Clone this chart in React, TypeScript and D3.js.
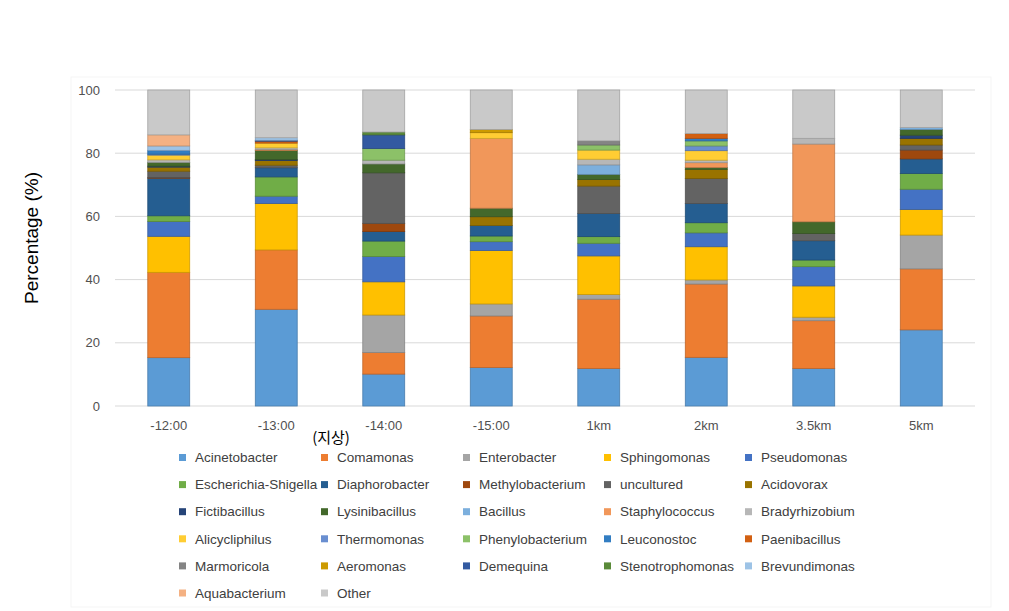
import React from "react";
import * as d3 from "d3";

const categories = ["-12:00", "-13:00", "-14:00", "-15:00", "1km", "2km", "3.5km", "5km"];

const seriesNames = [
  "Acinetobacter", "Comamonas", "Enterobacter", "Sphingomonas", "Pseudomonas",
  "Escherichia-Shigella", "Diaphorobacter", "Methylobacterium", "uncultured", "Acidovorax",
  "Fictibacillus", "Lysinibacillus", "Bacillus", "Staphylococcus", "Bradyrhizobium",
  "Alicycliphilus", "Thermomonas", "Phenylobacterium", "Leuconostoc", "Paenibacillus",
  "Marmoricola", "Aeromonas", "Demequina", "Stenotrophomonas", "Brevundimonas",
  "Aquabacterium", "Other",
];

const seriesColors = [
  "#5B9BD5", "#ED7D31", "#A5A5A5", "#FFC000", "#4472C4",
  "#70AD47", "#255E91", "#9E480E", "#636363", "#997300",
  "#264478", "#43682B", "#7CAFDD", "#F1975A", "#B7B7B7",
  "#FFCD33", "#698ED0", "#8CC168", "#327DC2", "#D26012",
  "#848484", "#CC9A00", "#335AA1", "#5A8A39", "#9DC3E6",
  "#F4B183", "#C9C9C9",
];

// values per series, one per category (in %)
const Acinetobacter = [15.3, 30.6, 10.1, 12.2, 11.9, 15.4, 11.9, 24.1];
const Comamonas = [27.0, 18.8, 6.8, 16.3, 21.9, 23.2, 15.1, 19.3];
const Enterobacter = [0, 0, 11.9, 3.8, 1.5, 1.3, 1.1, 10.7];
const Sphingomonas = [11.4, 14.7, 10.5, 16.9, 12.2, 10.5, 9.9, 8.1];
const Pseudomonas = [4.7, 2.3, 8.0, 2.8, 4.0, 4.4, 6.1, 6.4];
const EscherichiaShigella = [1.8, 6.1, 4.9, 1.8, 2.1, 3.2, 2.1, 5.0];
const Diaphorobacter = [11.9, 2.9, 3.0, 3.3, 7.3, 6.1, 6.1, 4.6];
const Methylobacterium = [0.2, 0, 2.6, 0, 0, 0, 0, 2.8];
const uncultured = [2.0, 0.8, 16.0, 0, 8.7, 7.9, 2.3, 1.6];
const Acidovorax = [1.3, 1.5, 0, 2.8, 2.1, 2.9, 0, 2.1];
const Fictibacillus = [0.3, 0.3, 0, 0, 0, 0, 0, 1.0];
const Lysinibacillus = [1.2, 2.9, 2.8, 2.7, 1.6, 0.6, 3.7, 1.8];
const Bacillus = [0, 0, 0, 0, 3.0, 0, 0, 0.6];
const Staphylococcus = [0, 0.3, 0, 22.1, 0, 1.5, 24.6, 0];
const Bradyrhizobium = [0.8, 0.5, 1.2, 0, 1.8, 0.8, 1.8, 0];
const Alicycliphilus = [1.5, 1.5, 0, 1.8, 2.9, 3.0, 0, 0];
const Thermomonas = [0.3, 0, 0, 0, 0, 1.5, 0, 0];
const Phenylobacterium = [0, 0, 3.7, 0, 1.6, 1.6, 0, 0];
const Leuconostoc = [1.2, 0, 0, 0, 0, 0.8, 0, 0];
const Paenibacillus = [0, 0.6, 0, 0, 0, 1.5, 0, 0];
const Marmoricola = [0, 0, 0, 0, 1.3, 0, 0, 0];
const Aeromonas = [0, 0, 0, 1.0, 0, 0, 0, 0];
const Demequina = [0, 0.3, 4.3, 0, 0, 0, 0, 0];
const Stenotrophomonas = [0, 0, 0.9, 0, 0, 0, 0, 0];
const Brevundimonas = [1.4, 0.8, 0, 0, 0, 0, 0, 0];
const Aquabacterium = [3.5, 0, 0, 0, 0, 0, 0, 0];
const Other = [14.2, 15.1, 13.3, 12.5, 16.1, 13.8, 15.3, 11.9];

const seriesValues = [
  Acinetobacter, Comamonas, Enterobacter, Sphingomonas, Pseudomonas,
  EscherichiaShigella, Diaphorobacter, Methylobacterium, uncultured, Acidovorax,
  Fictibacillus, Lysinibacillus, Bacillus, Staphylococcus, Bradyrhizobium,
  Alicycliphilus, Thermomonas, Phenylobacterium, Leuconostoc, Paenibacillus,
  Marmoricola, Aeromonas, Demequina, Stenotrophomonas, Brevundimonas,
  Aquabacterium, Other,
];

const yTicks = [0, 20, 40, 60, 80, 100];

const FONT = "'Liberation Sans', Arial, sans-serif";

export default function App() {
  const W = 1009;
  const H = 611;
  const left = 115;
  const right = 975;
  const top = 90;
  const bottom = 406;

  const x = d3.scaleBand<string>().domain(categories).range([left, right]).paddingInner(0.61).paddingOuter(0.305);
  const y = d3.scaleLinear().domain([0, 100]).range([bottom, top]);

  const rows = categories.map((c, i) => {
    const r: Record<string, number | string> = { cat: c };
    seriesNames.forEach((s, j) => (r[s] = seriesValues[j][i]));
    return r;
  });
  const stacked = d3.stack<any>().keys(seriesNames)(rows as any);

  const legendCols = [182, 324, 466, 607, 748];
  const legendRow0 = 457.5;
  const legendDy = 27.1;

  return (
    <svg width={W} height={H} style={{ position: "absolute", left: 0, top: 0, background: "#fff" }}>
      <rect x={71} y={77} width={920} height={530} fill="none" stroke="#f5f5f5" strokeWidth={1} />
      {yTicks.map((t) => (
        <g key={t}>
          <line x1={left} x2={right} y1={y(t)} y2={y(t)} stroke="#d9d9d9" strokeWidth={1} />
          <text x={100} y={y(t)} dy="0.35em" textAnchor="end" fontFamily={FONT} fontSize={13} fill="#505050">
            {t}
          </text>
        </g>
      ))}
      <text
        transform={`translate(31,${(top + bottom) / 2 - 10}) rotate(-90)`}
        textAnchor="middle"
        dy="0.35em"
        fontFamily={FONT}
        fontSize={19}
        fill="#000"
      >
        Percentage (%)
      </text>
      {stacked.map((layer, j) => (
        <g key={seriesNames[j]}>
          {layer.map((d, i) => {
            const h = y(d[0]) - y(d[1]);
            if (h <= 0) return null;
            const col = seriesColors[j];
            return (
              <rect
                key={i}
                x={x(categories[i])!}
                y={y(d[1])}
                width={x.bandwidth()}
                height={h}
                fill={col}
                stroke={d3.color(col)!.darker(0.6).formatHex()}
                strokeWidth={0.8}
              />
            );
          })}
        </g>
      ))}
      {categories.map((c) => (
        <text
          key={c}
          x={x(c)! + x.bandwidth() / 2}
          y={425}
          dy="0.35em"
          textAnchor="middle"
          fontFamily={FONT}
          fontSize={13}
          fill="#505050"
        >
          {c}
        </text>
      ))}
      <text x={331} y={438} dy="0.35em" textAnchor="middle" fontFamily="'Noto Sans CJK KR', sans-serif" fontSize={15} fill="#000">
        (지상)
      </text>
      {seriesNames.map((s, j) => {
        const col = j % 5;
        const row = Math.floor(j / 5);
        const lx = legendCols[col];
        const ly = legendRow0 + row * legendDy;
        return (
          <g key={s}>
            <rect x={lx - 3} y={ly - 3.5} width={7} height={7} fill={seriesColors[j]} />
            <text x={lx + 13} y={ly} dy="0.35em" fontFamily={FONT} fontSize={13.5} fill="#404040">
              {s}
            </text>
          </g>
        );
      })}
    </svg>
  );
}
